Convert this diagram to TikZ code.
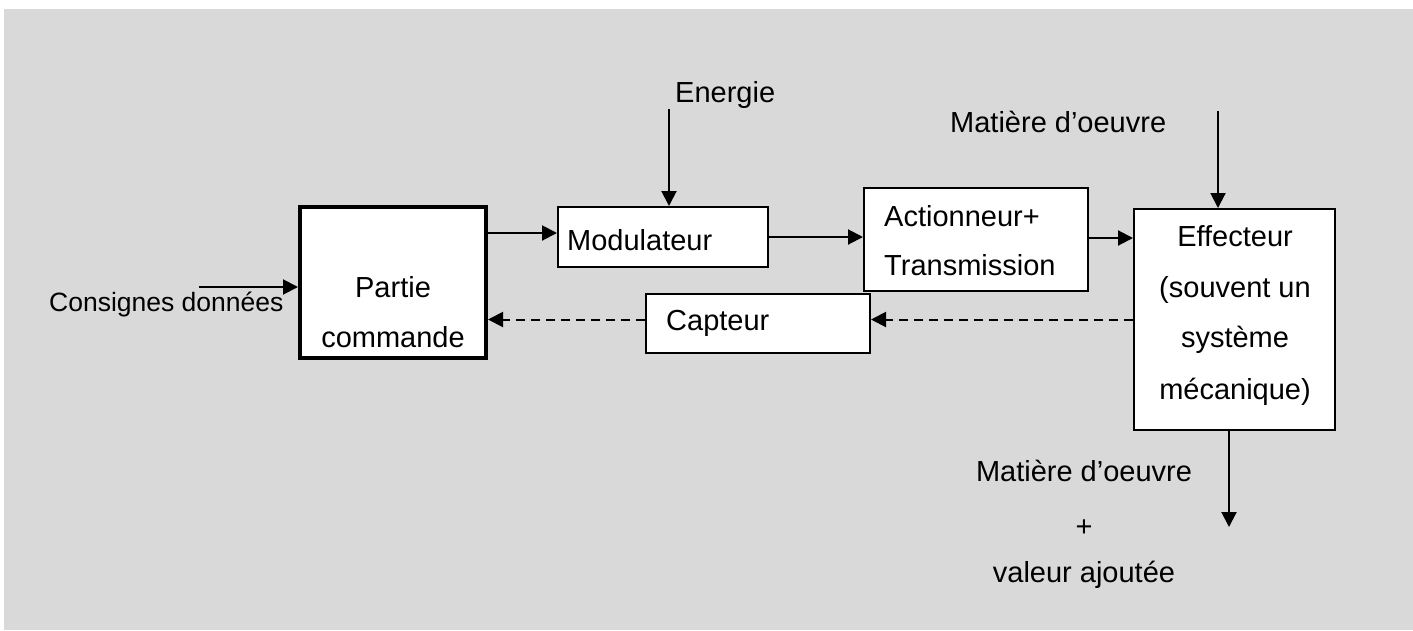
\documentclass[tikz,border=0pt]{standalone}
\usepackage{fontspec}
\setmainfont{Liberation Sans}
\usetikzlibrary{arrows.meta}
\definecolor{bg}{HTML}{D9D9D9}
\begin{document}
\begin{tikzpicture}[x=1pt,y=-1pt,
  box/.style={draw, line width=2pt, fill=white, inner sep=0pt},
  txt/.style={inner sep=0pt, font=\fontsize{29}{35}\selectfont},
  arr/.style={line width=2pt, -{Triangle[length=15pt,width=15pt]}},
  darr/.style={arr, dash pattern=on 9pt off 6pt}]
\useasboundingbox (0,0) rectangle (1413,630);
\fill[bg] (4,9) rectangle (1413,630);

% boxes
\node[box, line width=4pt, minimum width=186pt, minimum height=151pt] (pc) at (393,282.5) {};
\node[box, minimum width=210pt, minimum height=60pt] (mod) at (663,237) {};
\node[box, minimum width=224pt, minimum height=103pt] (act) at (976,239.5) {};
\node[box, minimum width=224pt, minimum height=59pt] (cap) at (758,323.5) {};
\node[box, minimum width=201pt, minimum height=221pt] (eff) at (1234.5,319.5) {};

% texts
\node[txt, anchor=base] (pc1) at (393,297) {Partie};
\node[txt, anchor=base] (pc2) at (393,347) {commande};
\node[txt, anchor=base west] (modt) at (567,250) {Modulateur};
\node[txt, anchor=base west] (act1) at (884,226) {Actionneur+};
\node[txt, anchor=base west] (act2) at (884,275) {Transmission};
\node[txt, anchor=base west] (capt) at (666,330) {Capteur};
\node[txt, anchor=base] (eff1) at (1235,246) {Effecteur};
\node[txt, anchor=base] (eff2) at (1235,297) {(souvent un};
\node[txt, anchor=base] (eff3) at (1235,347) {système};
\node[txt, anchor=base] (eff4) at (1235,399) {mécanique)};
\node[txt, anchor=base west] (ent) at (675,102) {Energie};
\node[txt, anchor=base west] (mat1) at (950,132) {Matière d’oeuvre};
\node[inner sep=0pt, font=\fontsize{26.5}{32}\selectfont, anchor=base west] (cons) at (49,311) {Consignes données};
\node[txt, anchor=base] (mat2) at (1084,481) {Matière d’oeuvre};
\node[txt, anchor=base] (plus) at (1084,536) {+};
\node[txt, anchor=base] (val) at (1084,582) {valeur ajoutée};

% connectors
\coordinate (cin) at (199,287);
\coordinate (en) at (669,109);
\coordinate (mt) at (1218,111);
\coordinate (out) at (1229,527);
\coordinate (y1) at (0,233);
\coordinate (y3) at (0,238);
\coordinate (yd) at (0,319.5);
\draw[arr] (cin) -- (cin -| pc.west);
\draw[arr] (en) -- (en |- mod.north);
\draw[arr] (mt) -- (mt |- eff.north);
\draw[arr] (pc.east |- y1) -- (mod.west |- y1);
\draw[arr] (mod.east) -- (act.west |- mod.east);
\draw[arr] (act.east |- y3) -- (eff.west |- y3);
\draw[arr] (eff.south -| out) -- (out);
\draw[darr] (eff.west |- yd) -- (cap.east |- yd);
\draw[darr] (cap.west |- yd) -- (pc.east |- yd);
\end{tikzpicture}
\end{document}
